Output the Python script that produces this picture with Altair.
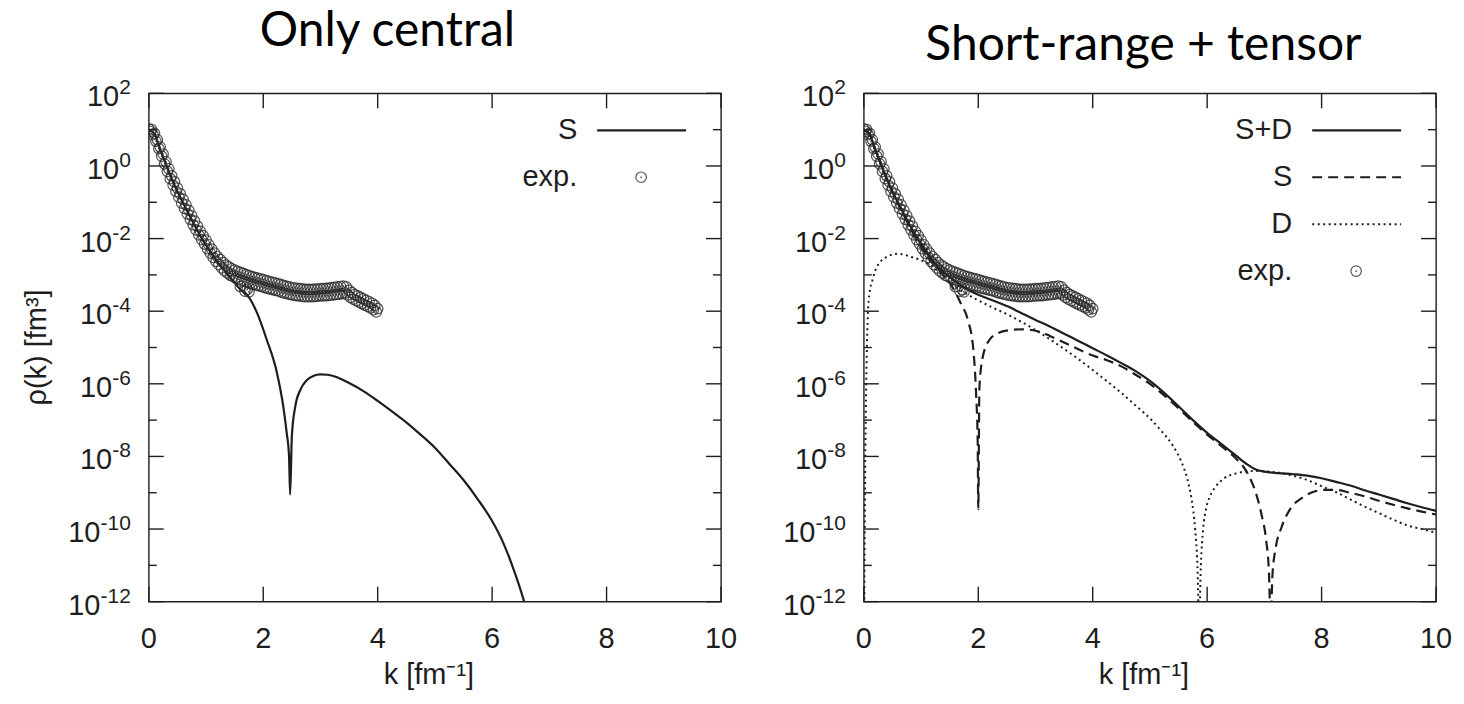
import altair as alt
import pandas as pd

# ---------------------------------------------------------------------------
# Experimental momentum distribution: two interleaved sets plus a few
# scattered points (k in fm^-1, values are log10 of rho(k) in fm^3)
# ---------------------------------------------------------------------------
exp_k_a = [0.00, 0.05, 0.10, 0.15, 0.20, 0.25, 0.30, 0.35, 0.40, 0.45,
           0.50, 0.55, 0.60, 0.65, 0.70, 0.75, 0.80, 0.85, 0.90, 0.95,
           1.00, 1.05, 1.10, 1.15, 1.20, 1.25, 1.30, 1.35, 1.40, 1.45,
           1.50, 1.55, 1.60, 1.65, 1.70, 1.75, 1.80, 1.85, 1.90, 1.95,
           2.00, 2.05, 2.10, 2.15, 2.20, 2.25, 2.30, 2.35, 2.40, 2.45,
           2.50, 2.55, 2.60, 2.65, 2.70, 2.75, 2.80, 2.85, 2.90, 2.95,
           3.00, 3.05, 3.10, 3.15, 3.20, 3.25, 3.30, 3.35, 3.40, 3.45,
           3.50, 3.55, 3.60, 3.65, 3.70, 3.75, 3.80, 3.85, 3.90, 3.95, 4.00]
exp_log_a = [1.02, 1.00, 0.90, 0.72, 0.52, 0.33, 0.12, -0.08, -0.27, -0.44,
             -0.61, -0.77, -0.92, -1.07, -1.22, -1.37, -1.52, -1.66, -1.80, -1.92,
             -2.04, -2.17, -2.29, -2.40, -2.50, -2.58, -2.66, -2.73, -2.78, -2.83,
             -2.87, -2.90, -2.93, -2.96, -2.99, -3.02, -3.05, -3.07, -3.09, -3.11,
             -3.13, -3.16, -3.18, -3.20, -3.22, -3.24, -3.26, -3.29, -3.31, -3.33,
             -3.35, -3.36, -3.37, -3.38, -3.39, -3.40, -3.40, -3.40, -3.39, -3.39,
             -3.38, -3.38, -3.37, -3.36, -3.35, -3.34, -3.33, -3.32, -3.31, -3.33,
             -3.42, -3.49, -3.54, -3.58, -3.62, -3.66, -3.70, -3.74, -3.78, -3.84, -3.93]

exp_k_b = [0.025, 0.075, 0.125, 0.175, 0.225, 0.275, 0.325, 0.375, 0.425, 0.475,
           0.525, 0.575, 0.625, 0.675, 0.725, 0.775, 0.825, 0.875, 0.925, 0.975,
           1.025, 1.075, 1.125, 1.175, 1.225, 1.275, 1.325, 1.375, 1.425, 1.475,
           1.525, 1.575, 1.625, 1.675, 1.725, 1.775, 1.825, 1.875, 1.925, 1.975,
           2.025, 2.075, 2.125, 2.175, 2.225, 2.275, 2.325, 2.375, 2.425, 2.475,
           2.525, 2.575, 2.625, 2.675, 2.725, 2.775, 2.825, 2.875, 2.925, 2.975,
           3.025, 3.075, 3.125, 3.175, 3.225, 3.275, 3.325, 3.375, 3.425, 3.475,
           3.525, 3.575, 3.625, 3.675, 3.725, 3.775, 3.825, 3.875, 3.925, 3.975]
exp_log_b = [0.95, 0.86, 0.68, 0.48, 0.27, 0.06, -0.15, -0.35, -0.53, -0.70,
             -0.86, -1.02, -1.17, -1.32, -1.47, -1.62, -1.76, -1.90, -2.03, -2.15,
             -2.28, -2.40, -2.52, -2.63, -2.72, -2.81, -2.89, -2.95, -3.01, -3.05,
             -3.09, -3.12, -3.15, -3.18, -3.21, -3.24, -3.26, -3.28, -3.30, -3.32,
             -3.35, -3.37, -3.39, -3.41, -3.43, -3.45, -3.48, -3.50, -3.52, -3.54,
             -3.56, -3.57, -3.58, -3.59, -3.60, -3.60, -3.60, -3.60, -3.59, -3.58,
             -3.58, -3.57, -3.57, -3.56, -3.55, -3.54, -3.53, -3.52, -3.50, -3.55,
             -3.62, -3.67, -3.71, -3.75, -3.79, -3.83, -3.87, -3.91, -3.96, -4.02]

exp_k_c = [1.60, 1.68, 1.72, 1.75]
exp_log_c = [-3.32, -3.45, -3.40, -3.47]

# ---------------------------------------------------------------------------
# Calculated distributions (log10 rho)
# ---------------------------------------------------------------------------
# central interaction only, S wave
central_s_k = [0.0, 0.1, 0.2, 0.3, 0.4, 0.5, 0.6, 0.7, 0.8, 0.9,
               1.0, 1.1, 1.2, 1.3, 1.4, 1.5, 1.6, 1.72, 1.89, 2.06,
               2.24, 2.35, 2.41, 2.45, 2.47, 2.50, 2.56, 2.65, 2.76, 2.88,
               3.0, 3.12, 3.25, 3.5, 3.75, 4.0, 4.25, 4.5, 4.75, 5.0,
               5.25, 5.5, 5.75, 6.0, 6.2, 6.35, 6.45, 6.56, 6.65]
central_s_log = [1.0, 0.88, 0.45, 0.05, -0.35, -0.70, -1.02, -1.33, -1.63, -1.92,
                 -2.18, -2.42, -2.64, -2.84, -3.03, -3.22, -3.40, -3.55, -4.04, -4.78,
                 -5.70, -6.62, -7.35, -7.95, -9.05, -7.44, -6.62, -6.16, -5.90, -5.78,
                 -5.74, -5.75, -5.80, -5.98, -6.20, -6.47, -6.76, -7.06, -7.40, -7.76,
                 -8.20, -8.65, -9.18, -9.78, -10.4, -11.0, -11.45, -12.0, -12.5]

# short-range + tensor: total S+D
tensor_sd_k = [0.0, 0.1, 0.2, 0.3, 0.4, 0.5, 0.6, 0.7, 0.8, 0.9,
               1.0, 1.1, 1.2, 1.3, 1.4, 1.5, 1.6, 1.7, 1.8,
               2.0, 2.25, 2.5, 2.75, 3.0, 3.25, 3.5, 3.75, 4.0, 4.25,
               4.5, 4.75, 5.0, 5.25, 5.5, 5.75, 6.0, 6.25, 6.5,
               6.7, 6.85, 7.0,
               7.25, 7.5, 7.75, 8.0, 8.25, 8.5, 8.75, 9.0, 9.25, 9.5, 9.75, 10.0]
tensor_sd_log = [1.0, 0.88, 0.45, 0.05, -0.35, -0.70, -1.02, -1.32, -1.62, -1.90,
                 -2.14, -2.38, -2.60, -2.78, -2.93, -3.06, -3.18, -3.29, -3.39,
                 -3.55, -3.70, -3.86, -4.05, -4.24, -4.42, -4.62, -4.82, -5.02, -5.22,
                 -5.43, -5.65, -5.92, -6.25, -6.62, -7.00, -7.35, -7.66, -7.97,
                 -8.22, -8.36, -8.42,
                 -8.46, -8.49, -8.53, -8.60, -8.70, -8.80, -8.93, -9.05, -9.17, -9.29, -9.40, -9.50]

# short-range + tensor: S-wave part
tensor_s_k = [0.0, 0.1, 0.2, 0.3, 0.4, 0.5, 0.6, 0.7, 0.8, 0.9,
              1.0, 1.1, 1.2, 1.3, 1.4, 1.5, 1.6, 1.7,
              1.82, 1.91, 1.96, 1.99, 2.0, 2.02, 2.08, 2.2,
              2.35, 2.55, 2.75, 2.9, 3.1, 3.25, 3.5, 3.75, 4.0, 4.25,
              4.5, 4.75, 5.0, 5.25, 5.5, 5.75, 6.0, 6.25, 6.5,
              6.7, 6.85, 6.95, 7.03, 7.08, 7.11, 7.14, 7.2, 7.3, 7.45,
              7.65, 7.85, 8.05, 8.25,
              8.5, 8.75, 9.0, 9.25, 9.5, 9.75, 10.0]
tensor_s_log = [1.0, 0.88, 0.45, 0.05, -0.36, -0.72, -1.05, -1.36, -1.67, -1.96,
                -2.22, -2.46, -2.66, -2.84, -3.02, -3.22, -3.48, -3.80,
                -4.25, -5.00, -6.20, -7.60, -9.45, -6.10, -5.25, -4.78,
                -4.60, -4.52, -4.50, -4.51, -4.58, -4.68, -4.86, -5.05, -5.22, -5.35,
                -5.52, -5.75, -6.00, -6.32, -6.67, -7.05, -7.40, -7.72, -8.05,
                -8.45, -9.00, -9.60, -10.3, -11.2, -12.6, -11.3, -10.5, -9.95, -9.45,
                -9.15, -8.98, -8.92, -8.92,
                -9.00, -9.10, -9.22, -9.33, -9.43, -9.52, -9.60]

# short-range + tensor: D-wave part
tensor_d_k = [0.005, 0.02, 0.035, 0.05, 0.07, 0.1, 0.15, 0.2,
              0.3, 0.4, 0.5, 0.6, 0.7, 0.8, 0.9, 1.0, 1.1, 1.2,
              1.33, 1.5, 1.65, 1.8, 2.0, 2.25, 2.5, 2.75, 3.0, 3.25,
              3.5, 3.75, 4.0, 4.25, 4.5, 4.75, 5.0,
              5.2, 5.4, 5.55, 5.65, 5.73, 5.79, 5.83, 5.86, 5.89, 5.93,
              5.98, 6.05, 6.15, 6.3, 6.5,
              6.7, 6.9, 7.1, 7.3, 7.5, 7.75, 8.0, 8.25, 8.5, 8.75,
              9.0, 9.25, 9.5, 9.75, 10.0]
tensor_d_log = [-13.0, -9.0, -6.8, -5.3, -4.1, -3.5, -3.15, -2.88,
                -2.62, -2.50, -2.44, -2.42, -2.44, -2.49, -2.54, -2.60, -2.67, -2.76,
                -2.95, -3.20, -3.38, -3.53, -3.70, -3.90, -4.08, -4.29, -4.52, -4.77,
                -5.04, -5.32, -5.62, -5.93, -6.25, -6.60, -6.95,
                -7.30, -7.70, -8.15, -8.60, -9.20, -10.0, -11.0, -12.6, -11.0, -10.0,
                -9.45, -9.10, -8.83, -8.60, -8.47,
                -8.41, -8.40, -8.42, -8.46, -8.53, -8.65, -8.82, -8.98, -9.18, -9.38,
                -9.56, -9.74, -9.90, -10.0, -10.1]

# ---------------------------------------------------------------------------
# Axis furniture
# ---------------------------------------------------------------------------
decade_exps = [2, 1, 0, -1, -2, -3, -4, -5, -6, -7, -8, -9, -10, -11, -12]
label_exps = ["2", "0", "-2", "-4", "-6", "-8", "-10", "-12"]
x_tick_vals = [0, 2, 4, 6, 8, 10]

titles = ["Only central", "Short-range + tensor"]
x_title = "k [fm\u207b\u00b9]"
y_title = "\u03c1(k) [fm\u00b3]"
legend_central = [("S", "solid"), ("exp.", "exp")]
legend_tensor = [("S+D", "solid"), ("S", "dash"), ("D", "dot"), ("exp.", "exp")]

# ---------------------------------------------------------------------------
# Styling and page geometry
# ---------------------------------------------------------------------------
W, H = 573, 509
PAD_L, PAD_T, PAD_R, PAD_B = 148, 92, 27, 103
GAP = 143
INK = "#1e1e1e"
SANS = "Liberation Sans"
TITLE_FONT = "Lato"
LABEL_SIZE = 29
EXP_SIZE = 21
EXP_DIGIT = 11.7
EXP_MINUS = 7.0
LABEL_GAP = 18
MAJOR, MINOR = 15, 8
LINE_W = 2.2
DASH = [10, 6]
DOT = [2, 3.5]
PT_SIZE = 110

XS = alt.Scale(domain=[0, 10], nice=False, zero=False)
YS = alt.Scale(type="log", domain=[1e-12, 1e2], nice=False)


def xenc(field="k"):
    return alt.X(f"{field}:Q", scale=XS, axis=None)


def yenc(field="rho"):
    return alt.Y(f"{field}:Q", scale=YS, axis=None)


def curve_df(k, lg):
    return pd.DataFrame({"k": k, "rho": [10.0 ** v for v in lg]})


one = pd.DataFrame({"n": [0]})

exp_df = pd.concat([curve_df(exp_k_a, exp_log_a),
                    curve_df(exp_k_b, exp_log_b),
                    curve_df(exp_k_c, exp_log_c)], ignore_index=True)

dec_df = pd.DataFrame({"e": decade_exps})
dec_df["v"] = [10.0 ** e for e in decade_exps]
major_df = dec_df[dec_df["e"] % 2 == 0]
minor_df = dec_df[dec_df["e"] % 2 != 0]
xt_df = pd.DataFrame({"k": x_tick_vals})

lab_df = pd.DataFrame({"s": label_exps})
lab_df["v"] = [10.0 ** int(s) for s in label_exps]
lab_df["w"] = [EXP_DIGIT * sum(c.isdigit() for c in s) + EXP_MINUS * s.count("-")
               for s in label_exps]


def stroke_kw(kind):
    if kind == "dash":
        return {"strokeDash": DASH}
    if kind == "dot":
        return {"strokeDash": DOT, "strokeCap": "butt", "strokeWidth": 2.0}
    return {}


def page_corner(x, y):
    # invisible marker that fixes the extent of the page around the panels
    return alt.Chart(one).mark_rule(color="white", opacity=0, strokeWidth=0.01).encode(
        x=alt.value(x), x2=alt.value(x + 1), y=alt.value(y))


def frame_layers():
    rule = dict(color=INK, strokeWidth=1.4)
    out = []
    for df, ln in ((major_df, MAJOR), (minor_df, MINOR)):
        out.append(alt.Chart(df).mark_rule(**rule).encode(
            y=yenc("v"), x=alt.value(0), x2=alt.value(ln)))
        out.append(alt.Chart(df).mark_rule(**rule).encode(
            y=yenc("v"), x=alt.value(W - ln), x2=alt.value(W)))
    out.append(alt.Chart(xt_df).mark_rule(**rule).encode(
        x=xenc(), y=alt.value(H - MAJOR), y2=alt.value(H)))
    out.append(alt.Chart(xt_df).mark_rule(**rule).encode(
        x=xenc(), y=alt.value(0), y2=alt.value(MAJOR)))
    return out


def label_layers(with_y_title):
    out = []
    for w, g in lab_df.groupby("w"):
        out.append(alt.Chart(g).mark_text(
            text="10", align="right", baseline="alphabetic", dy=13,
            font=SANS, fontSize=LABEL_SIZE, color=INK).encode(
            y=yenc("v"), x=alt.value(-LABEL_GAP - w)))
    out.append(alt.Chart(lab_df).mark_text(
        align="right", baseline="alphabetic", dy=1,
        font=SANS, fontSize=EXP_SIZE, color=INK).encode(
        y=yenc("v"), x=alt.value(-LABEL_GAP), text="s:N"))
    out.append(alt.Chart(xt_df).mark_text(
        align="center", baseline="middle",
        font=SANS, fontSize=LABEL_SIZE, color=INK).encode(
        x=xenc(), y=alt.value(H + 37), text=alt.Text("k:Q")))
    out.append(alt.Chart(pd.DataFrame({"t": [x_title]})).mark_text(
        align="center", baseline="alphabetic",
        font=SANS, fontSize=LABEL_SIZE, color=INK).encode(
        x=alt.value(W / 2 - 6), y=alt.value(H + 82), text="t:N"))
    if with_y_title:
        out.append(alt.Chart(pd.DataFrame({"t": [y_title]})).mark_text(
            align="center", baseline="middle", angle=270,
            font=SANS, fontSize=LABEL_SIZE, color=INK).encode(
            x=alt.value(-112), y=alt.value(H / 2), text="t:N"))
    return out


def exp_layers(df, x=None, y=None):
    circ = dict(shape="circle", filled=False, size=PT_SIZE, strokeWidth=1.2,
                color="#2a2a2a", opacity=0.8)
    dot = dict(shape="circle", filled=True, size=3, color="#2a2a2a", opacity=0.85)
    if x is None:
        enc = dict(x=xenc(), y=yenc())
        return [alt.Chart(df).mark_point(clip=True, **circ).encode(**enc),
                alt.Chart(df).mark_point(clip=True, **dot).encode(**enc)]
    enc = dict(x=alt.value(x), y=alt.value(y))
    return [alt.Chart(df).mark_point(**circ).encode(**enc),
            alt.Chart(df).mark_point(**dot).encode(**enc)]


def legend_layers(rows):
    out = []
    for i, (name, kind) in enumerate(rows):
        yy = 37 + 47 * i
        out.append(alt.Chart(pd.DataFrame({"t": [name]})).mark_text(
            align="right", baseline="middle",
            font=SANS, fontSize=LABEL_SIZE, color=INK).encode(
            x=alt.value(429), y=alt.value(yy), text="t:N"))
        if kind == "exp":
            out += exp_layers(one, x=493, y=yy)
        else:
            kw = dict(color=INK, strokeWidth=LINE_W)
            kw.update(stroke_kw(kind))
            out.append(alt.Chart(one).mark_rule(**kw).encode(
                x=alt.value(449), x2=alt.value(538), y=alt.value(yy)))
    return out


def curve_layer(df, kind):
    kw = dict(color=INK, strokeWidth=LINE_W, clip=True, interpolate="monotone")
    kw.update(stroke_kw(kind))
    return alt.Chart(df).mark_line(**kw).encode(x=xenc(), y=yenc())


def title_layer(text, cx, base):
    return alt.Chart(pd.DataFrame({"t": [text]})).mark_text(
        align="center", baseline="alphabetic",
        font=TITLE_FONT, fontSize=48, color="#000000").encode(
        x=alt.value(cx), y=alt.value(base), text="t:N")


left = alt.layer(
    page_corner(-PAD_L, -PAD_T),
    *frame_layers(),
    *label_layers(True),
    curve_layer(curve_df(central_s_k, central_s_log), "solid"),
    *exp_layers(exp_df),
    *legend_layers(legend_central),
    title_layer(titles[0], 239, -47),
).properties(width=W, height=H)

right = alt.layer(
    page_corner(W + PAD_R - 1, H + PAD_B),
    *frame_layers(),
    *label_layers(False),
    curve_layer(curve_df(tensor_d_k, tensor_d_log), "dot"),
    curve_layer(curve_df(tensor_s_k, tensor_s_log), "dash"),
    curve_layer(curve_df(tensor_sd_k, tensor_sd_log), "solid"),
    *exp_layers(exp_df),
    *legend_layers(legend_tensor),
    title_layer(titles[1], 280, -33),
).properties(width=W, height=H)

chart = alt.hconcat(left, right, spacing=GAP, bounds="flush").properties(
    padding=0,
    autosize=alt.AutoSizeParams(type="pad"),
    background="white",
).configure_view(stroke=INK, strokeWidth=1.4)

chart.save("out.html", embed_options={"renderer": "svg", "actions": False})
